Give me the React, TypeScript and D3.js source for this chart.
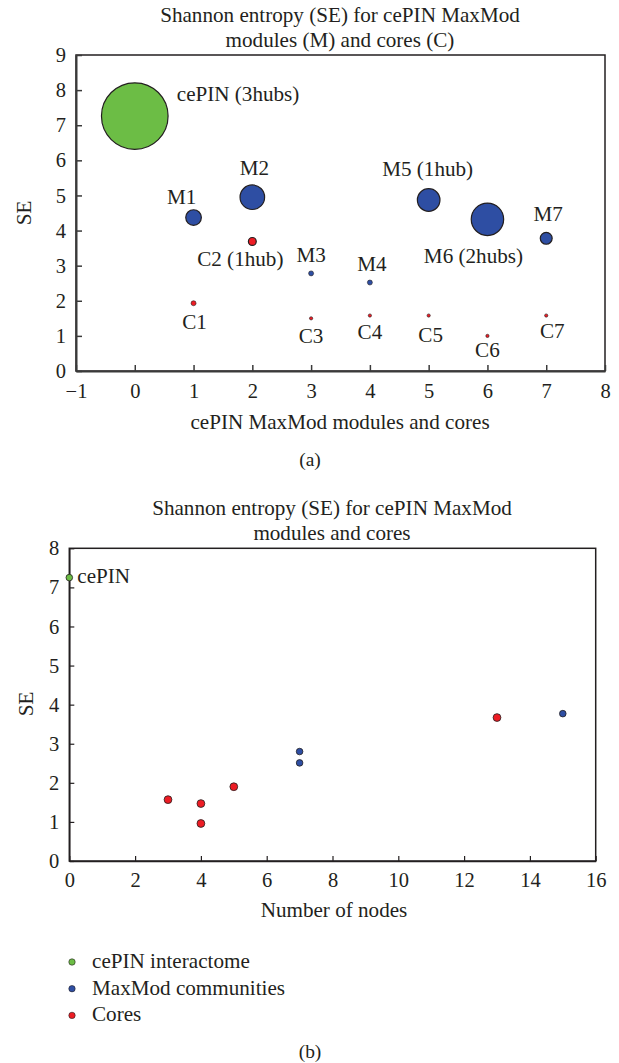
import React, { useEffect, useRef } from 'react';
import * as d3 from 'd3';

// panel (a): modules, cores and the whole interactome
const topNames = ['cePIN (3hubs)', 'M1', 'M2', 'C2 (1hub)', 'M3', 'M4', 'M5 (1hub)', 'M6 (2hubs)', 'M7', 'C1', 'C3', 'C4', 'C5', 'C6', 'C7'];
const topGroups = ['cePIN', 'mod', 'mod', 'core', 'mod', 'mod', 'mod', 'mod', 'mod', 'core', 'core', 'core', 'core', 'core', 'core'];
const topIndex = [0, 1, 2, 2, 3, 4, 5, 6, 7, 1, 3, 4, 5, 6, 7];
const topSE = [7.26, 4.37, 4.95, 3.69, 2.78, 2.52, 4.87, 4.32, 3.78, 1.93, 1.5, 1.58, 1.58, 1.0, 1.58];
const topBubble = [100, 5.5, 13.6, 1.4, 0.56, 0.56, 11.5, 23.7, 3.2, 0.56, 0.24, 0.24, 0.24, 0.24, 0.24];
// label placement relative to the bubble centre [dx, dy, anchor]
const topLabelPlace: [number, number, string][] = [
  [42, -15, 'start'], [-12, -14, 'middle'], [2, -22, 'middle'], [-12, 25, 'middle'],
  [0, -11, 'middle'], [2, -12, 'middle'], [-1, -24, 'middle'], [-14, 44, 'middle'],
  [2, -17, 'middle'], [1, 26, 'middle'], [0, 25, 'middle'], [0, 23, 'middle'],
  [2, 26, 'middle'], [0, 21, 'middle'], [6, 22, 'middle'],
];

// panel (b): SE against number of nodes
const botGroups = ['cePIN', 'mod', 'mod', 'mod', 'core', 'core', 'core', 'core', 'core'];
const botNodes = [0, 7, 7, 15, 3, 4, 4, 5, 13];
const botSE = [7.25, 2.8, 2.51, 3.77, 1.57, 1.47, 0.96, 1.9, 3.67];

const legendNames = ['cePIN interactome', 'MaxMod communities', 'Cores'];
const legendGroups = ['cePIN', 'mod', 'core'];

const titleLine1 = 'Shannon entropy (SE) for cePIN MaxMod';

const colors: Record<string, string> = { cePIN: '#6cbd45', mod: '#2e4ea3', core: '#ed1c24' };
const FONT = '"Liberation Serif", "DejaVu Serif", serif';

const App = () => {
  const svgRef = useRef<SVGSVGElement>(null);

  useEffect(() => {
    const svg = d3.select(svgRef.current);
    svg.selectAll('*').remove();
    svg.attr('font-family', FONT).attr('fill', '#231f20');

    // size the type so the title line is as wide as in the original (~360px)
    const probe = svg.append('text').attr('font-size', 20).text(titleLine1);
    const w = (probe.node() as SVGTextElement).getComputedTextLength() || 330;
    probe.remove();
    const FS = Math.max(16, Math.min(22, (20 * 360) / w));
    const TS = FS * 0.97;

    // ---------- panel (a) ----------
    const a = { left: 76, right: 605, top: 55, bottom: 371 };
    const xA = d3.scaleLinear().domain([-1, 8]).range([a.left, a.right]);
    const yA = d3.scaleLinear().domain([0, 9]).range([a.bottom, a.top]);
    const rA = d3.scaleSqrt().domain([0, 100]).range([0, 33.3]);

    const gA = svg.append('g');
    gA.append('text').attr('x', 340).attr('y', 22).attr('text-anchor', 'middle')
      .attr('font-size', FS).text(titleLine1);
    gA.append('text').attr('x', 340).attr('y', 47).attr('text-anchor', 'middle')
      .attr('font-size', FS).text('modules (M) and cores (C)');

    gA.append('rect').attr('x', a.left).attr('y', a.top)
      .attr('width', a.right - a.left).attr('height', a.bottom - a.top)
      .attr('fill', 'none').attr('stroke', '#231f20').attr('stroke-width', 1.5);

    const axA = gA.append('g').attr('transform', `translate(0,${a.bottom})`)
      .call(d3.axisBottom(xA).ticks(9).tickSizeInner(-6).tickSizeOuter(0).tickPadding(12)
        .tickFormat(d => (+d < 0 ? '\u2212' + Math.abs(+d) : String(d))));
    const ayA = gA.append('g').attr('transform', `translate(${a.left},0)`)
      .call(d3.axisLeft(yA).ticks(9).tickSizeInner(-6).tickSizeOuter(0).tickPadding(10));
    [axA, ayA].forEach(g => {
      g.select('.domain').attr('stroke', '#3a3a3a').attr('stroke-width', 2);
      g.selectAll('line').attr('stroke', '#3a3a3a').attr('stroke-width', 1.5);
      g.selectAll('text').attr('font-size', TS).attr('font-family', FONT).attr('fill', '#231f20');
    });

    gA.append('text').attr('transform', `translate(31,213) rotate(-90)`)
      .attr('text-anchor', 'middle').attr('font-size', FS).text('SE');
    gA.append('text').attr('x', 340).attr('y', 429).attr('text-anchor', 'middle')
      .attr('font-size', FS).text('cePIN MaxMod modules and cores');
    gA.append('text').attr('x', 310).attr('y', 466).attr('text-anchor', 'middle')
      .attr('font-size', FS * 0.92).text('(a)');

    const topIdx = d3.range(topNames.length).sort((i, j) => topBubble[j] - topBubble[i]);
    gA.selectAll('circle.bubble').data(topIdx).enter().append('circle')
      .attr('class', 'bubble')
      .attr('cx', i => xA(topIndex[i]))
      .attr('cy', i => yA(topSE[i]))
      .attr('r', i => rA(topBubble[i]))
      .attr('fill', i => colors[topGroups[i]])
      .attr('stroke', '#231f20')
      .attr('stroke-width', i => (topBubble[i] > 1 ? 1.2 : 0.6));

    gA.selectAll('text.lbl').data(d3.range(topNames.length)).enter().append('text')
      .attr('class', 'lbl')
      .attr('x', i => xA(topIndex[i]) + topLabelPlace[i][0])
      .attr('y', i => yA(topSE[i]) + topLabelPlace[i][1])
      .attr('text-anchor', i => topLabelPlace[i][2])
      .attr('font-size', FS)
      .text(i => topNames[i]);

    // ---------- panel (b) ----------
    const b = { left: 69.3, right: 595.7, top: 548.3, bottom: 861 };
    const xB = d3.scaleLinear().domain([0, 16]).range([b.left, b.right]);
    const yB = d3.scaleLinear().domain([0, 8]).range([b.bottom, b.top]);

    const gB = svg.append('g');
    gB.append('text').attr('x', 332).attr('y', 515).attr('text-anchor', 'middle')
      .attr('font-size', FS).text(titleLine1);
    gB.append('text').attr('x', 332).attr('y', 540).attr('text-anchor', 'middle')
      .attr('font-size', FS).text('modules and cores');

    gB.append('rect').attr('x', b.left).attr('y', b.top)
      .attr('width', b.right - b.left).attr('height', b.bottom - b.top)
      .attr('fill', 'none').attr('stroke', '#231f20').attr('stroke-width', 1.5);

    const axB = gB.append('g').attr('transform', `translate(0,${b.bottom})`)
      .call(d3.axisBottom(xB).ticks(8).tickSizeInner(-5).tickSizeOuter(0).tickPadding(11));
    const ayB = gB.append('g').attr('transform', `translate(${b.left},0)`)
      .call(d3.axisLeft(yB).ticks(8).tickSizeInner(-5).tickSizeOuter(0).tickPadding(10));
    [axB, ayB].forEach(g => {
      g.select('.domain').attr('stroke', '#231f20').attr('stroke-width', 1.5);
      g.selectAll('line').attr('stroke', '#231f20').attr('stroke-width', 1.2);
      g.selectAll('text').attr('font-size', TS).attr('font-family', FONT).attr('fill', '#231f20');
    });

    gB.append('text').attr('transform', `translate(33,704) rotate(-90)`)
      .attr('text-anchor', 'middle').attr('font-size', FS).text('SE');
    gB.append('text').attr('x', 334).attr('y', 917).attr('text-anchor', 'middle')
      .attr('font-size', FS).text('Number of nodes');

    gB.selectAll('circle.pt').data(d3.range(botNodes.length)).enter().append('circle')
      .attr('class', 'pt')
      .attr('cx', i => xB(botNodes[i]))
      .attr('cy', i => yB(botSE[i]))
      .attr('r', i => (botGroups[i] === 'core' ? 3.9 : 3.3))
      .attr('fill', i => colors[botGroups[i]])
      .attr('stroke', '#231f20')
      .attr('stroke-width', 0.8);

    gB.append('text').attr('x', xB(botNodes[0]) + 8).attr('y', yB(botSE[0]) + 5)
      .attr('font-size', FS).text('cePIN');

    const leg = gB.append('g');
    legendNames.forEach((name, i) => {
      const y = 962 + i * 26.7;
      leg.append('circle').attr('cx', 72).attr('cy', y).attr('r', 3.2)
        .attr('fill', colors[legendGroups[i]]).attr('stroke', '#231f20').attr('stroke-width', 0.6);
      leg.append('text').attr('x', 92).attr('y', y + 6).attr('font-size', FS).text(name);
    });

    gB.append('text').attr('x', 310).attr('y', 1058).attr('text-anchor', 'middle')
      .attr('font-size', FS * 0.92).text('(b)');
  }, []);

  return (
    <svg ref={svgRef} width={619} height={1063}
      style={{ position: 'absolute', left: 0, top: 0, background: '#fff' }} />
  );
};

export default App;
